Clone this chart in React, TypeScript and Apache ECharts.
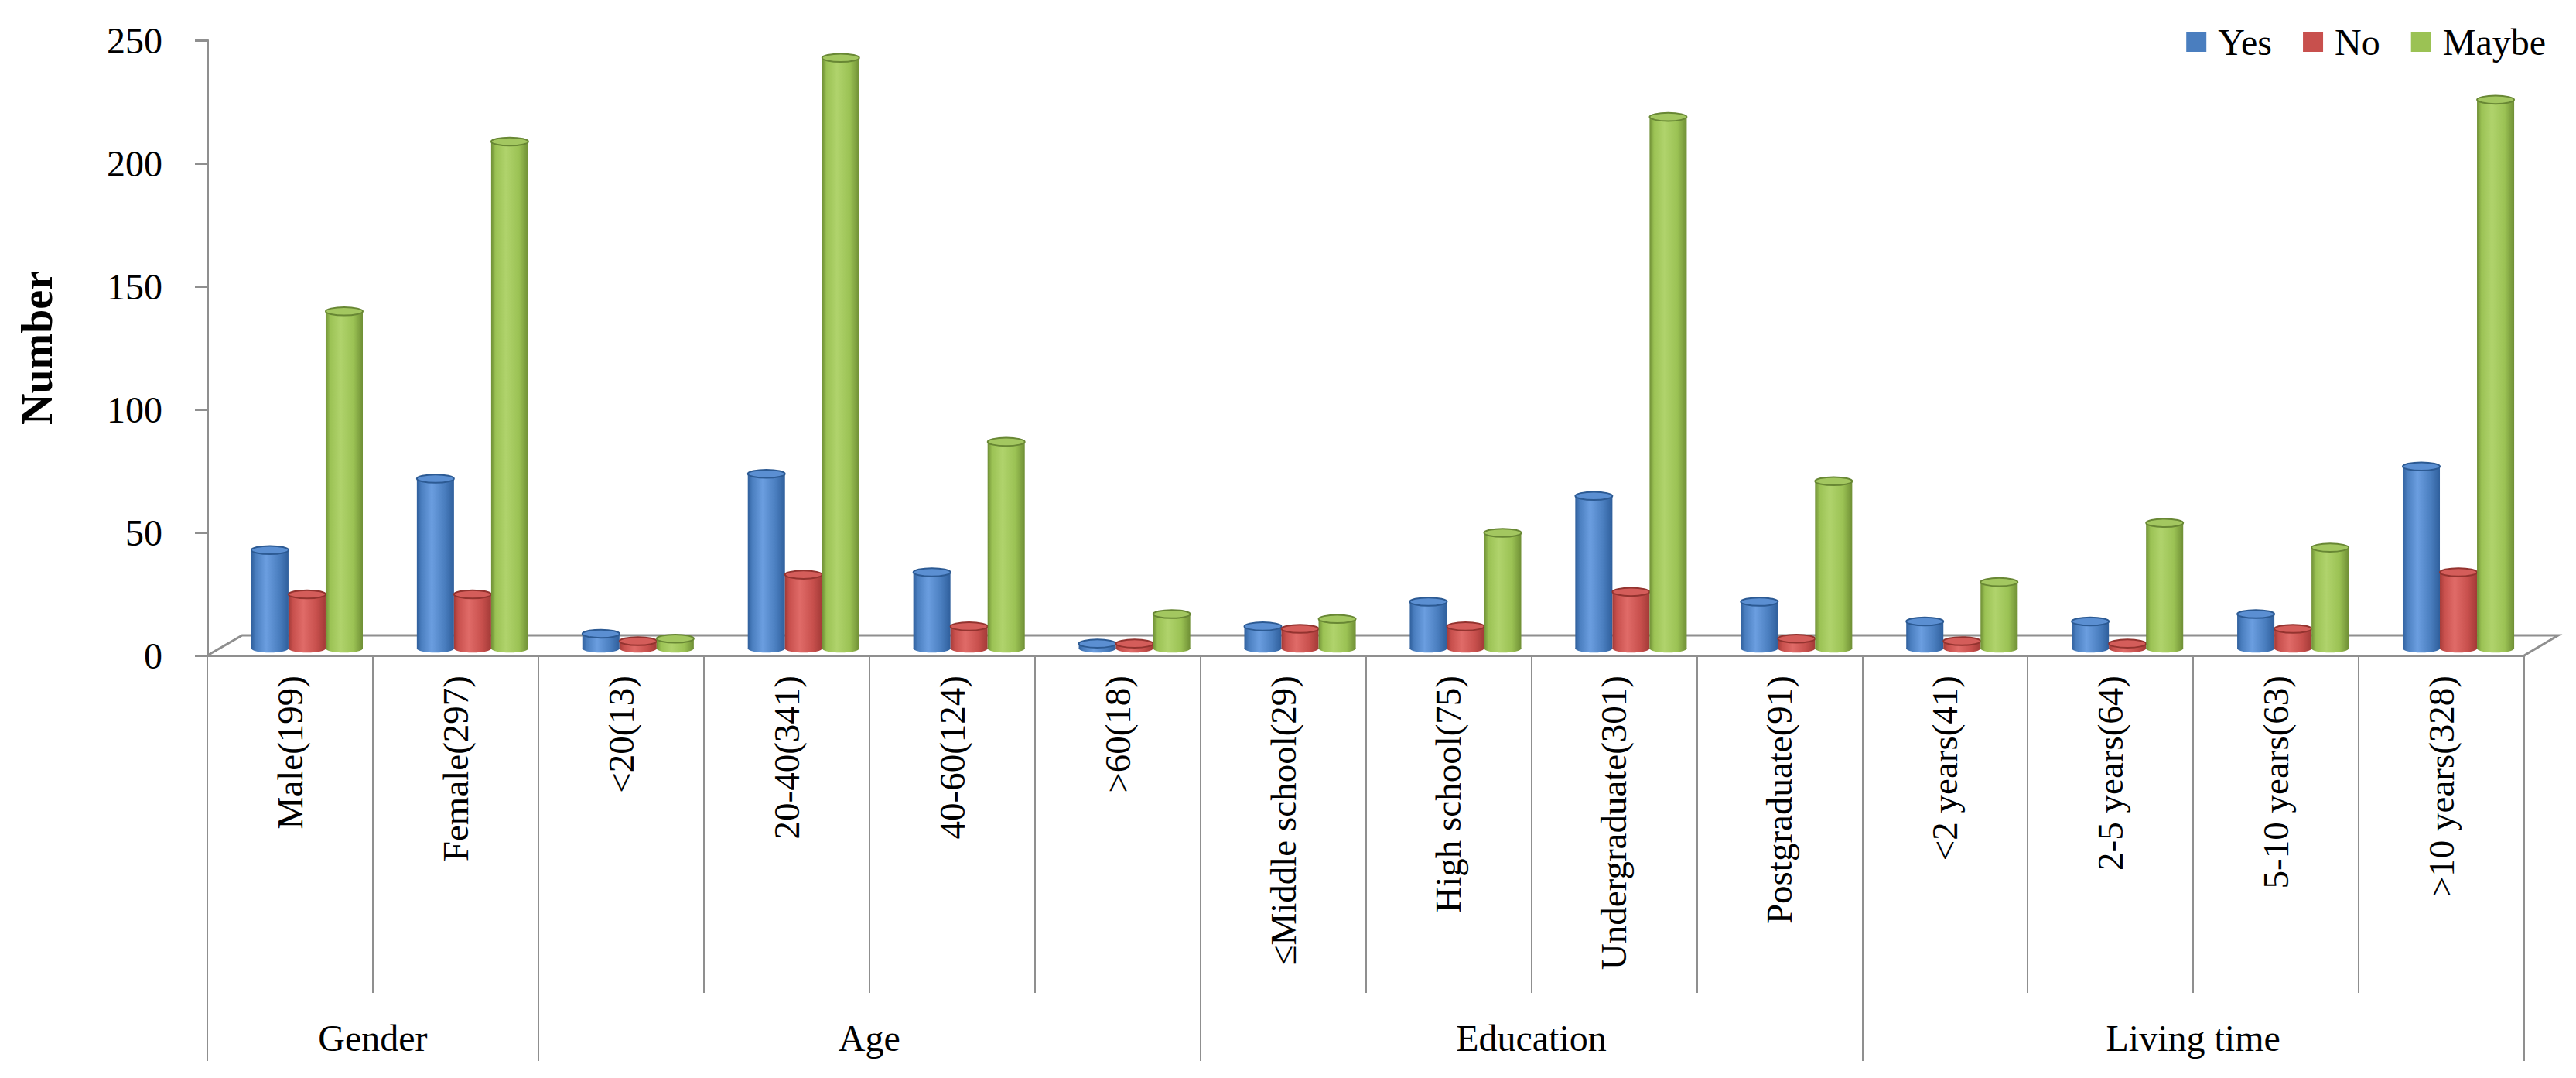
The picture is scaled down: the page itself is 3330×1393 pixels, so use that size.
import React, { useEffect, useRef } from "react";
import * as echarts from "echarts";

// Respondent groups and their sub-categories (n in brackets)
const categories = [
  "Male(199)",
  "Female(297)",
  "<20(13)",
  "20-40(341)",
  "40-60(124)",
  ">60(18)",
  "≤Middle school(29)",
  "High school(75)",
  "Undergraduate(301)",
  "Postgraduate(91)",
  "<2 years(41)",
  "2-5 years(64)",
  "5-10 years(63)",
  ">10 years(328)",
];

// Group labels placed on category boundaries (15 boundary points)
const groupLabels = ["", "Gender", "", "", "Age", "", "", "", "Education", "", "", "", "Living time", "", ""];
const groupEdges = [0, 2, 6, 10, 14];

const yesValues = [40, 69, 6, 71, 31, 2, 9, 19, 62, 19, 11, 11, 14, 74];
const noValues = [22, 22, 3, 30, 9, 2, 8, 9, 23, 4, 3, 2, 8, 31];
const maybeValues = [137, 206, 4, 240, 84, 14, 12, 47, 216, 68, 27, 51, 41, 223];

const yTicks = { min: 0, max: 250, interval: 50 };

const FONT = "'Liberation Serif', 'Times New Roman', serif";
const AXIS_GREY = "#8f8f8f";

// Plot frame (pixels)
const GRID = { left: 268, right: 67, top: 52, bottom: 546 };
const W = 3330;
const H = 1393;

// Cylinder shading per series
const palettes = [
  { flat: "#4a7ebf", dark: "#2f5f9c", light: "#6b9ee0", top: "#5b8fd2", edge: "#2c5a93" },
  { flat: "#c8504d", dark: "#a33a37", light: "#e06b68", top: "#d45d5a", edge: "#93332f" },
  { flat: "#9bc254", dark: "#6f8f35", light: "#b0d36c", top: "#a3c760", edge: "#688734" },
];

const DEPTH_DX = 22;
const DEPTH_DY = -9;

function cylinder(seriesIndex: number) {
  const p = palettes[seriesIndex];
  return (params: any, api: any) => {
    const cat = api.value(0);
    const val = api.value(1);
    const base = api.coord([cat, 0]);
    const top = api.coord([cat, val]);
    const band = api.size([1, 0])[0];
    const w = band * 0.2245;
    const cx = base[0] + DEPTH_DX + (seriesIndex - 1) * w;
    const yb = base[1] + DEPTH_DY;
    const yt = top[1] + DEPTH_DY;
    const ry = w * 0.11;
    const body = new echarts.graphic.LinearGradient(0, 0, 1, 0, [
      { offset: 0, color: p.dark },
      { offset: 0.12, color: p.flat },
      { offset: 0.4, color: p.light },
      { offset: 0.75, color: p.flat },
      { offset: 1, color: p.dark },
    ]);
    return {
      type: "group",
      children: [
        {
          type: "ellipse",
          shape: { cx, cy: yb, rx: w / 2, ry },
          style: { fill: body },
        },
        {
          type: "rect",
          shape: { x: cx - w / 2, y: yt, width: w, height: Math.max(0, yb - yt) },
          style: { fill: body },
        },
        {
          type: "ellipse",
          shape: { cx, cy: yt, rx: w / 2, ry },
          style: { fill: p.top, stroke: p.edge, lineWidth: 2 },
        },
      ],
    };
  };
}

const seriesDefs = [
  { name: "Yes", values: yesValues },
  { name: "No", values: noValues },
  { name: "Maybe", values: maybeValues },
];

export default function App() {
  const ref = useRef<HTMLDivElement>(null);

  useEffect(() => {
    if (!ref.current) return;
    const chart = echarts.init(ref.current, undefined, { renderer: "svg" });

    const floorLeft = GRID.left;
    const floorRight = W - GRID.right;
    const floorFront = H - GRID.bottom;
    const floorBack = floorFront - 26;

    chart.setOption({
      animation: false,
      backgroundColor: "#ffffff",
      textStyle: { fontFamily: FONT, color: "#000" },
      legend: {
        data: ["Yes", "No", "Maybe"],
        right: 34,
        top: 25,
        icon: "rect",
        itemWidth: 26,
        itemHeight: 26,
        itemGap: 40,
        textStyle: { fontFamily: FONT, fontSize: 48, color: "#000", padding: [0, 0, 0, 10] },
      },
      grid: { ...GRID, containLabel: false },
      xAxis: [
        {
          type: "category",
          data: categories,
          boundaryGap: true,
          axisLine: { show: true, lineStyle: { color: AXIS_GREY, width: 3 } },
          axisTick: { show: true, interval: 0, length: 436, lineStyle: { color: AXIS_GREY, width: 2 } },
          axisLabel: {
            interval: 0,
            rotate: 90,
            margin: 26,
            fontSize: 47,
            fontFamily: FONT,
            color: "#000",
          },
        },
        {
          type: "category",
          data: groupLabels,
          boundaryGap: false,
          position: "bottom",
          axisLine: { show: false },
          axisTick: {
            show: true,
            interval: (i: number) => groupEdges.includes(i),
            length: 524,
            lineStyle: { color: AXIS_GREY, width: 2 },
          },
          axisLabel: {
            interval: 0,
            margin: 470,
            fontSize: 48,
            fontFamily: FONT,
            color: "#000",
          },
        },
      ],
      yAxis: {
        type: "value",
        min: yTicks.min,
        max: yTicks.max,
        interval: yTicks.interval,
        name: "Number",
        nameLocation: "middle",
        nameRotate: 90,
        nameGap: 192,
        nameTextStyle: { fontFamily: FONT, fontSize: 56, fontWeight: "bold", color: "#000" },
        axisLine: { show: true, lineStyle: { color: AXIS_GREY, width: 3 } },
        axisTick: { show: true, length: 16, lineStyle: { color: AXIS_GREY, width: 3 } },
        splitLine: { show: false },
        axisLabel: { margin: 58, fontSize: 48, fontFamily: FONT, color: "#000" },
      },
      graphic: [
        {
          type: "polyline",
          z: 1,
          silent: true,
          shape: {
            points: [
              [floorLeft, floorFront],
              [floorLeft + 45, floorBack],
              [floorRight + 44, floorBack],
              [floorRight, floorFront],
            ],
          },
          style: { stroke: AXIS_GREY, lineWidth: 3, fill: null },
        },
      ],
      series: seriesDefs.map((s, i) => ({
        type: "custom",
        name: s.name,
        xAxisIndex: 0,
        yAxisIndex: 0,
        z: 5,
        itemStyle: { color: palettes[i].flat },
        renderItem: cylinder(i),
        encode: { x: 0, y: 1 },
        data: s.values.map((v, k) => [k, v]),
      })),
    });

    return () => chart.dispose();
  }, []);

  return (
    <div
      ref={ref}
      style={{ position: "absolute", left: 0, top: 0, width: W, height: H, background: "#fff" }}
    />
  );
}
